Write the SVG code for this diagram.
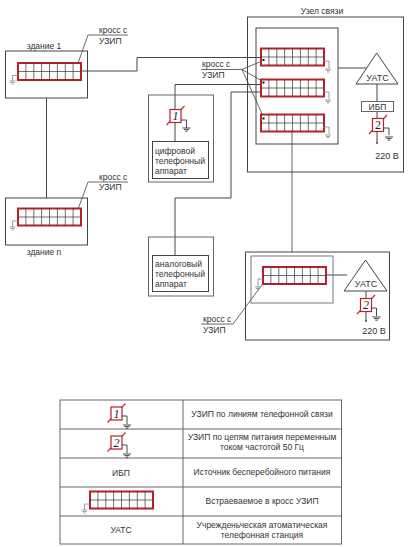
<svg xmlns="http://www.w3.org/2000/svg" width="414" height="547" viewBox="0 0 414 547">
<style>
text{font-family:"Liberation Sans",Arial,sans-serif;font-size:8.5px;fill:#333}
.m{text-anchor:middle}
.b{fill:none;stroke:#444;stroke-width:1}
.g{fill:none;stroke:#666;stroke-width:1}
.w{fill:none;stroke:#444;stroke-width:1}
.t{fill:none;stroke:#444;stroke-width:.8}
.cf{fill:#fff;stroke:#b5202a;stroke-width:2}
.cl{fill:none;stroke:#333;stroke-width:.7}
.e{fill:none;stroke:#888;stroke-width:.8}
.r{fill:none;stroke:#c03038;stroke-width:1.2}
.s{fill:#fff;stroke:#b5202a;stroke-width:1.2}
.n{font-family:"Liberation Serif",serif;font-style:italic;font-size:12px;fill:#222;text-anchor:middle}
.u{font-size:9px}
</style>
<defs>
<g id="cross">
<rect class="cf" x="0" y="0" width="63" height="17"/>
<path class="cl" d="M7.9 0V17M15.800 0V17M23.600 0V17M31.500 0V17M39.400 0V17M47.300 0V17M55.100 0V17M0 8.500H63"/>
</g>
<g id="gl"><path class="e" d="M-3 0H3M-2 1.500H2M-1 3H1"/></g>
<g id="gd"><path d="M-4 0H4M-2.600 1.600H2.600M-1.200 3.200H1.200" fill="none" stroke="#333" stroke-width=".9"/></g>
<g id="sp">
<path class="r" d="M-9 9L9 -10"/>
<rect class="s" x="-5.500" y="-6.500" width="11" height="13"/>
</g>
</defs>

<g id="connectors">
<path class="w" d="M80 71H137V57.500H261"/>
<path class="w" d="M46.500 98V198"/>
<path class="w" d="M175 141V84.500H261"/>
<path class="w" d="M261 92H231V198H175V255"/>
<path class="g" d="M292 132V252"/>
<path class="w" d="M338 68H367"/>
<path class="w" d="M377 84V101M377 111V118M377 131V143"/>
<path class="w" d="M326 275H347"/>
<path class="w" d="M366 291V298M366 311V321"/>
<path class="t" d="M128 35H88L77 66"/>
<path class="t" d="M128 182H88L77 212"/>
<path class="t" d="M201 69.500H242M242 69.500L262 61M242 69.500L262 81M242 69.500L263 116"/>
<path class="t" d="M201 324H233L267 278"/>
</g>

<g id="building-1">
<rect class="b" x="5.500" y="51" width="82" height="47"/>
<use href="#cross" x="18" y="63"/>
<path class="e" d="M18 75.500H12.500V81"/><use href="#gl" x="12.500" y="81"/>
<text x="44" y="49" class="m">здание 1</text>
<text x="99" y="33">кросс с</text><text x="99" y="44">УЗИП</text>
</g>

<g id="building-n">
<rect class="b" x="5.500" y="198" width="82" height="47"/>
<use href="#cross" x="18" y="208.500"/>
<path class="e" d="M18 221H12.500V227"/><use href="#gl" x="12.500" y="227"/>
<text x="44" y="255" class="m">здание n</text>
<text x="99" y="180">кросс с</text><text x="99" y="190">УЗИП</text>
</g>

<g id="cross-label">
<text x="202" y="67">кросс с</text><text x="202" y="78">УЗИП</text>
</g>

<g id="digital-phone">
<rect x="148.500" y="95" width="65" height="87" fill="none" stroke="#666"/>
<rect x="152.500" y="141.500" width="56" height="37" class="b"/>
<use href="#sp" x="175.500" y="116"/>
<text x="175.500" y="120" class="n">1</text>
<path d="M181 120H186.500V128" fill="none" stroke="#333" stroke-width=".9"/><use href="#gd" x="186.500" y="128"/>
<text x="155" y="154">цифровой</text><text x="155" y="164">телефонный</text><text x="155" y="174">аппарат</text>
</g>

<g id="analog-phone">
<rect x="148.500" y="237" width="65" height="59" fill="none" stroke="#666"/>
<rect x="152.500" y="255.500" width="56" height="36" class="b"/>
<text x="155" y="267">аналоговый</text><text x="155" y="277">телефонный</text><text x="155" y="287">аппарат</text>
</g>

<g id="uzel">
<rect class="b" x="247.500" y="17" width="156" height="155"/>
<text x="322" y="14" class="m">Узел связи</text>
<rect class="b" x="256" y="28" width="82" height="116"/>
<use href="#cross" x="261" y="48.500"/>
<use href="#cross" x="261" y="79.500"/>
<use href="#cross" x="261" y="114.500"/>
<path class="e" d="M323 61H329V68M323 92H329V99M323 127H329V134"/>
<use href="#gl" x="328" y="69"/><use href="#gl" x="328" y="100"/><use href="#gl" x="328" y="135"/>
<rect x="262.500" y="59" width="2" height="2" fill="#111"/>
<rect x="262.500" y="81.500" width="2" height="2" fill="#111"/>
<rect x="262.500" y="117.500" width="2" height="2" fill="#111"/>
<path d="M376.700 53L356 84H398Z" class="b"/>
<text x="377.500" y="81" class="m u">УАТС</text>
<rect x="361.500" y="101.500" width="32" height="10" fill="#fff" stroke="#666"/>
<text x="377.500" y="110" class="m">ИБП</text>
<use href="#sp" x="378" y="125"/>
<text x="378" y="129" class="n" style="font-style:normal">2</text>
<path d="M383.500 128H389V135" fill="none" stroke="#333" stroke-width=".9"/><use href="#gd" x="389" y="137"/>
<circle cx="377" cy="143" r="1" fill="#456"/>
<text x="387" y="158.500" class="m u">220 В</text>
</g>

<g id="node-lower">
<rect class="b" x="245.500" y="252" width="144" height="88"/>
<rect x="251" y="256" width="82" height="47" fill="none" stroke="#777"/>
<use href="#cross" x="263" y="267"/>
<path class="e" d="M263 279H258V287"/><use href="#gl" x="258" y="287"/>
<path d="M365.500 260L344 291H387Z" class="b"/>
<text x="366" y="287" class="m u">УАТС</text>
<use href="#sp" x="366" y="305"/>
<text x="366" y="309" class="n">2</text>
<path d="M371.500 308H376.500V316" fill="none" stroke="#333" stroke-width=".9"/><use href="#gd" x="376.500" y="317"/>
<circle cx="366" cy="321" r="1" fill="#456"/>
<text x="374" y="334" class="m u">220 В</text>
<text x="203" y="321.500">кросс с</text><text x="203" y="332.500">УЗИП</text>
</g>

<g id="legend">
<rect x="60" y="400" width="281.500" height="144" fill="none" stroke="#666"/>
<path d="M60 429H341.500M60 458H341.500M60 487H341.500M60 516H341.500M183 400V544" fill="none" stroke="#666"/>
<use href="#sp" x="116.500" y="413.500"/><text x="116.500" y="418" class="n">1</text>
<path d="M122 416H127V424" fill="none" stroke="#333" stroke-width=".9"/><use href="#gd" x="127" y="425"/>
<use href="#sp" x="116.500" y="442.500"/><text x="116.500" y="447" class="n">2</text>
<path d="M122 445H127V453" fill="none" stroke="#333" stroke-width=".9"/><use href="#gd" x="127" y="454"/>
<text x="121" y="476" class="m">ИБП</text>
<use href="#cross" x="90" y="491.500"/>
<path class="e" d="M90 504H84.500V510"/><use href="#gl" x="84.500" y="510"/>
<text x="121" y="533" class="m">УАТС</text>
<text x="262" y="417" class="m">УЗИП по линиям телефонной связи</text>
<text x="262" y="439.500" class="m">УЗИП по цепям питания переменным</text>
<text x="262" y="449.500" class="m">током частотой 50 Гц</text>
<text x="262" y="475" class="m">Источник бесперебойного питания</text>
<text x="262" y="504" class="m">Встраеваемое в кросс УЗИП</text>
<text x="262" y="528" class="m">Учрежденьческая атоматическая</text>
<text x="262" y="538" class="m">телефонная станция</text>
</g>
</svg>
